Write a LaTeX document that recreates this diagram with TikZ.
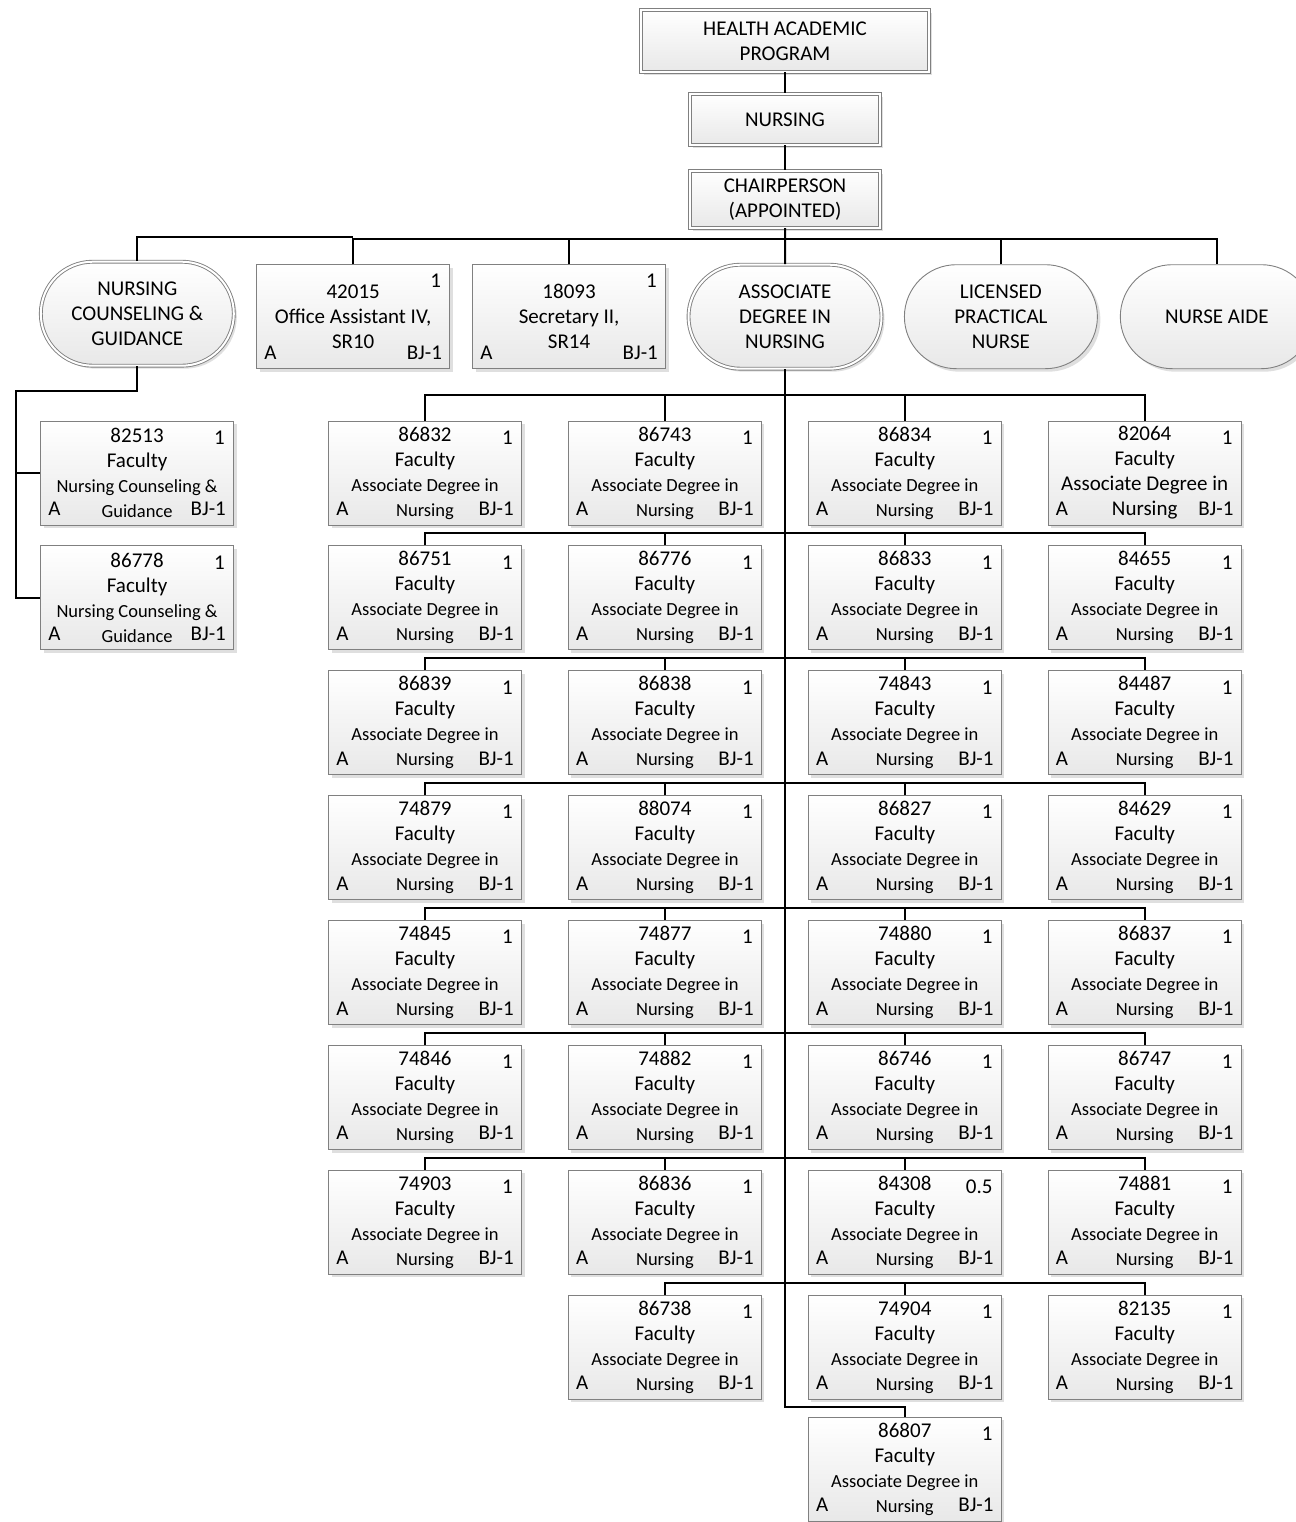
\documentclass[tikz,border=0pt]{standalone}
\usepackage{fontspec}
\setmainfont{Carlito}
\usetikzlibrary{positioning, shapes.misc, shadows}
\newcommand{\bigf}{\fontsize{21}{25}\selectfont}
\newcommand{\smf}{\fontsize{18.5}{24.5}\selectfont}
\newcommand{\adnpos}[1]{#1\\Faculty\\\smf Associate Degree in\\\smf Nursing}
\newcommand{\ncgpos}[1]{#1\\Faculty\\\smf Nursing Counseling \&\\\smf Guidance}
\tikzstyle{box}=[rectangle, draw=black!50, line width=0.9pt, top color=white, bottom color=black!9, drop shadow={shadow xshift=3pt, shadow yshift=-3pt, fill=black!25, opacity=0.5}, align=center, font=\bigf, inner sep=0pt, text=black]
\tikzstyle{twin}=[double, double distance=2pt]
\tikzstyle{head}=[box, twin]
\tikzstyle{unit}=[box, rounded rectangle, minimum width=193pt, minimum height=104pt]
\tikzstyle{corner}=[inner sep=0pt, font=\bigf, text=black]
\tikzstyle{link}=[line width=2pt, black]
\tikzset{post/.style={box, minimum width=193pt, minimum height=104pt,
    label={[corner, anchor=north east, xshift=-9pt, yshift=-10pt]north east:#1},
    label={[corner, anchor=base west, xshift=8pt, yshift=10pt]south west:A},
    label={[corner, anchor=base east, xshift=-8pt, yshift=10pt]south east:BJ-1}},
  post/.default=1}

\begin{document}
\begin{tikzpicture}[x=1pt, y=-1pt]
\useasboundingbox (0,0) rectangle (1295,1522);
    % top of the chart
    \node       [head, minimum width=288pt, minimum height=62pt]  (hap)   at (785,41)   {HEALTH ACADEMIC\\PROGRAM};
    \node       [head, minimum width=190pt, minimum height=51pt]  (nur)   [below=21pt of hap]   {NURSING};
    \node       [head, minimum width=190pt, minimum height=57pt]  (chair) [below=25pt of nur]   {CHAIRPERSON\\(APPOINTED)};
    % programs and staff
    \node       [unit, twin]    (adn)   [below=36pt of chair]   {ASSOCIATE\\DEGREE IN\\NURSING};
    \node       [post]          (sec)   [left=22pt of adn]      {18093\\Secretary II,\\SR14};
    \node       [post]          (oa)    [left=22pt of sec]      {42015\\Office Assistant IV,\\SR10};
    \node       [unit, twin]    (ncg)   [left=22pt of oa, yshift=3pt] {NURSING\\COUNSELING \&\\GUIDANCE};
    \node       [unit]          (lpn)   [right=22pt of adn]     {LICENSED\\PRACTICAL\\NURSE};
    \node       [unit]          (aide)  [right=22pt of lpn]     {NURSE AIDE};
    % faculty rows
    \node       [post]  (F11)   at (425,473)            {\adnpos{86832}};
    \node       [post]  (F12)   [right=46pt of F11]     {\adnpos{86743}};
    \node       [post]  (F13)   [right=46pt of F12]     {\adnpos{86834}};
    \node       [post]  (F14)   [right=46pt of F13]     {82064\\Faculty\\Associate Degree in\\Nursing};
    \node       [post]  (F21)   [below=20pt of F11]     {\adnpos{86751}};
    \node       [post]  (F22)   [right=46pt of F21]     {\adnpos{86776}};
    \node       [post]  (F23)   [right=46pt of F22]     {\adnpos{86833}};
    \node       [post]  (F24)   [right=46pt of F23]     {\adnpos{84655}};
    \node       [post]  (F31)   [below=20pt of F21]     {\adnpos{86839}};
    \node       [post]  (F32)   [right=46pt of F31]     {\adnpos{86838}};
    \node       [post]  (F33)   [right=46pt of F32]     {\adnpos{74843}};
    \node       [post]  (F34)   [right=46pt of F33]     {\adnpos{84487}};
    \node       [post]  (F41)   [below=20pt of F31]     {\adnpos{74879}};
    \node       [post]  (F42)   [right=46pt of F41]     {\adnpos{88074}};
    \node       [post]  (F43)   [right=46pt of F42]     {\adnpos{86827}};
    \node       [post]  (F44)   [right=46pt of F43]     {\adnpos{84629}};
    \node       [post]  (F51)   [below=20pt of F41]     {\adnpos{74845}};
    \node       [post]  (F52)   [right=46pt of F51]     {\adnpos{74877}};
    \node       [post]  (F53)   [right=46pt of F52]     {\adnpos{74880}};
    \node       [post]  (F54)   [right=46pt of F53]     {\adnpos{86837}};
    \node       [post]  (F61)   [below=20pt of F51]     {\adnpos{74846}};
    \node       [post]  (F62)   [right=46pt of F61]     {\adnpos{74882}};
    \node       [post]  (F63)   [right=46pt of F62]     {\adnpos{86746}};
    \node       [post]  (F64)   [right=46pt of F63]     {\adnpos{86747}};
    \node       [post]  (F71)   [below=20pt of F61]     {\adnpos{74903}};
    \node       [post]  (F72)   [right=46pt of F71]     {\adnpos{86836}};
    \node       [post=0.5] (F73) [right=46pt of F72]    {\adnpos{84308}};
    \node       [post]  (F74)   [right=46pt of F73]     {\adnpos{74881}};
    \node       [post]  (F82)   [below=20pt of F72]     {\adnpos{86738}};
    \node       [post]  (F83)   [right=46pt of F82]     {\adnpos{74904}};
    \node       [post]  (F84)   [right=46pt of F83]     {\adnpos{82135}};
    \node       [post]  (F93)   [below=17pt of F83]     {\adnpos{86807}};
    % counseling faculty
    \node       [post]  (C1)    [left=94pt of F11]      {\ncgpos{82513}};
    \node       [post]  (C2)    [below=20pt of C1]      {\ncgpos{86778}};
    % connectors
    \draw[link] (hap) -- (nur);
    \draw[link] (nur) -- (chair);
    \draw[link] (chair) -- (adn);
    \draw[link] (oa.north) -- ++(0,-25) -| (aide.north) (sec.north) -- ++(0,-25) (lpn.north) -- ++(0,-25);
    \draw[link] (ncg.north) |- (oa.north |- 0,237);
    \draw[link] (ncg.south) -- ++(0,25) -| ([xshift=-24pt]C2.west) -- (C2.west);
    \draw[link] ([xshift=-24pt]C1.west) -- (C1.west);
    \draw[link] (adn.south) |- ([yshift=10pt]F93.north) -- (F93.north);
    \draw[link] (F11.north) -- ++(0,-26) -| (F14.north) (F12.north) -- ++(0,-26) (F13.north) -- ++(0,-26);
    \draw[link] (F21.north) -- ++(0,-12) -| (F24.north) (F22.north) -- ++(0,-12) (F23.north) -- ++(0,-12);
    \draw[link] (F31.north) -- ++(0,-12) -| (F34.north) (F32.north) -- ++(0,-12) (F33.north) -- ++(0,-12);
    \draw[link] (F41.north) -- ++(0,-12) -| (F44.north) (F42.north) -- ++(0,-12) (F43.north) -- ++(0,-12);
    \draw[link] (F51.north) -- ++(0,-12) -| (F54.north) (F52.north) -- ++(0,-12) (F53.north) -- ++(0,-12);
    \draw[link] (F61.north) -- ++(0,-12) -| (F64.north) (F62.north) -- ++(0,-12) (F63.north) -- ++(0,-12);
    \draw[link] (F71.north) -- ++(0,-12) -| (F74.north) (F72.north) -- ++(0,-12) (F73.north) -- ++(0,-12);
    \draw[link] (F82.north) -- ++(0,-12) -| (F84.north) (F83.north) -- ++(0,-12);
\end{tikzpicture}
\end{document}
